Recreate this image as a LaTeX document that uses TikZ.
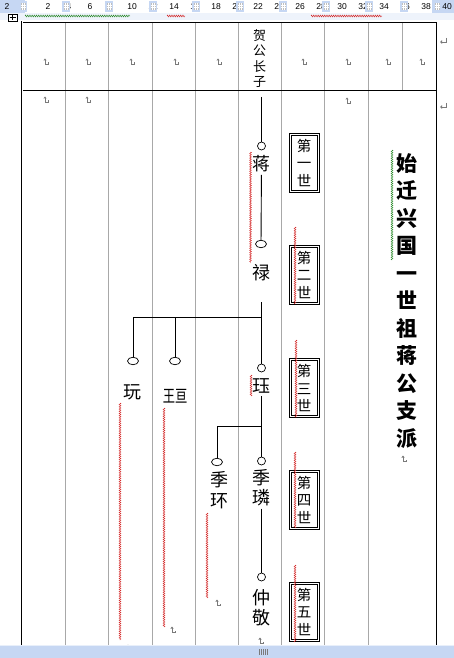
\documentclass[tikz,border=0pt]{standalone}
\usepackage{graphicx}
\usepackage{fontspec}
\setmainfont{Liberation Sans}
\newfontfamily\cjk{Noto Sans CJK SC}
\usetikzlibrary{positioning,shapes.geometric,decorations.pathmorphing}
\definecolor{rulerblue}{HTML}{C6D7F3}
\definecolor{paleblue}{HTML}{EEF3FB}
\definecolor{gridgray}{HTML}{A8A8A8}
\definecolor{markgray}{HTML}{7A7A7A}
\definecolor{spellred}{HTML}{D42A2A}
\definecolor{spellgreen}{HTML}{2E8B2E}

\begin{document}
\begin{tikzpicture}[x=1pt, y=-1pt,
  gridline/.style={draw=gridgray, line width=0.8pt},
  trunk/.style={line width=0.9pt},
  knot/.style={draw, ellipse, inner sep=0pt, minimum width=8pt, minimum height=8pt, line width=0.7pt},
  oval/.style={knot, minimum width=11pt, minimum height=7.5pt},
  person/.style={font=\cjk\fontsize{18}{20.5}\selectfont, align=center, inner sep=2.5pt},
  genbox/.style={draw, line width=0.9pt, align=center, inner sep=0pt,
    minimum width=30pt, minimum height=59pt, font=\cjk\fontsize{14.5}{17.5}\selectfont},
  spell/.style={draw=spellred, line width=0.45pt, decorate, decoration={zigzag, segment length=2.2pt, amplitude=0.9pt}},
  rulernum/.style={font=\fontsize{8.5}{9}\selectfont, inner sep=0pt},
  cellmark/.pic={
    \fill[markgray] (-1.6,-1.5) -- (0,-3.5) -- (1.6,-1.5) -- cycle;
    \draw[markgray, line width=0.6pt] (0,-2) -- (0,2) -- (3.5,2) -- (3.5,0.5);},
  rowmark/.pic={
    \draw[markgray, line width=0.6pt] (3,-3) -- (3,1) -- (-1,1);
    \fill[markgray] (-3,1) -- (-1,-0.8) -- (-1,2.8) -- cycle;}]
  \useasboundingbox (0,0) rectangle (454,658);
  \fill[white] (0,0) rectangle (454,658);
  % ---- ruler ----
  \fill[rulerblue] (0,0) rectangle (454,13);
  \fill[white] (25,0) rectangle (432,13);
  \fill[paleblue] (0,13) rectangle (454,20);
  \node[rulernum] at (7,6.5) {2};
  \foreach \n in {2,4,...,40} \node[rulernum] at (27+10.5*\n,6.5) {\n};
  \foreach \m in {23,66,109,153,196,240,283,326,369,404,437}{
    \fill[rulerblue] (\m-4,1) rectangle (\m+4,12);
    \fill[gray!50] (\m-2.5,3) rectangle (\m+2.5,10);
    \draw[white, line width=0.4pt] (\m-2.5,5.3) -- (\m+2.5,5.3) (\m-2.5,7.7) -- (\m+2.5,7.7)
      (\m-0.8,3) -- (\m-0.8,10) (\m+0.8,3) -- (\m+0.8,10);}
  \draw[fill=white, line width=0.5pt] (8,14) rectangle (17,21);
  \draw[line width=0.5pt] (12.5,15) -- (12.5,20) (9.5,17.5) -- (15.5,17.5);
  % ---- table ----
  \foreach \x in {65,108,152,195,238,281,324,368} \draw[gridline] (\x,23) -- (\x,645);
  \draw[gridline] (402,23) -- (402,91);
  \draw[line width=1pt] (22,91) -- (437,91);
  \draw[line width=0.6pt, double, double distance=1pt] (22,645) |- (437,22) -- (437,645);
  % ---- header row ----
  \node[font=\cjk\fontsize{13}{15.5}\selectfont, align=center, inner sep=0pt] (head) at (259.5,58.5) {贺\\公\\长\\子};
  \foreach \x in {45,87,131,175,218,303,347,387,421} \pic at (\x,62) {cellmark};
  \pic at (443,41) {rowmark};
  \pic at (443,106) {rowmark};
  \foreach \x/\y in {45/100, 87/100, 347/101, 403/459, 217/603, 172/630, 260/641, 128/648} \pic at (\x,\y) {cellmark};
  % ---- lineage ----
  \coordinate (top) at (261.5,97);
  \node[knot] (kj) at (261.5,146) {};
  \node[person] (pj) at (261.5,164) {蒋};
  \node[oval] (kl) at (261,244) {};
  \node[person] (pl) at (261.5,273) {禄};
  \coordinate (lt) at (261.5,302);
  \node[knot] (kq) at (261.5,368) {};
  \node[person] (pq) at (261.5,386) {珏};
  \node[oval] (kw) at (133,361) {};
  \node[person] (pw) at (132,392) {玩};
  \node[oval] (kx) at (175,361) {};
  \node[person, font=\cjk\fontsize{17}{18}\selectfont] (px) at (175,396) {\scalebox{0.72}[1]{王亘}};
  \node[knot] (kn) at (261.5,461) {};
  \node[person] (pn) at (261.5,487.5) {季\\璘};
  \node[oval] (kh) at (217,462) {};
  \node[person] (ph) at (219,490) {季\\环};
  \node[knot] (kz) at (261.5,577) {};
  \node[person] (pz) at (261.5,607.5) {仲\\敬};
  \coordinate (b1) at (261.5,317);
  \coordinate (b2) at (261.5,426);
  \draw[trunk] (top) -- (kj);
  \draw[trunk] (pj) -- (kl);
  \draw[trunk] (lt) -- (kq);
  \draw[trunk] (b1) -| (kw);
  \draw[trunk] (kx |- b1) -- (kx);
  \draw[trunk] (pq) -- (kn);
  \draw[trunk] (b2) -| (kh);
  \draw[trunk] (pn) -- (kz);
  % ---- generations ----
  \foreach \i/\y/\t in {1/162.5/一, 2/274.5/二, 3/388/三, 4/499.5/四, 5/611.5/五}{
    \node[genbox] (g\i) at (304,\y) {第\\\t\\世};
    \draw[line width=0.9pt] ([shift={(2.4,2.4)}]g\i.north west) rectangle ([shift={(-2.4,-2.4)}]g\i.south east);}
  \node[font=\cjk\bfseries\fontsize{21}{27.5}\selectfont, align=center, inner sep=0pt] (title) at (407,301)
    {始\\迁\\兴\\国\\一\\世\\祖\\蒋\\公\\支\\派};
  % ---- proofing marks ----
  \foreach \x/\a/\b in {250.5/152/263, 295/227/304, 251/375/396, 296/340/418, 295/452/528, 295/565/642,
      120/403/640, 164/408/627, 207/513/598}
    \draw[spell] (\x,\a) -- (\x,\b);
  \draw[spell] (167,16) -- (185,16);
  \draw[spell] (311,16) -- (382,16);
  \draw[spell, draw=spellgreen] (392,150) -- (392,260);
  \draw[spell, draw=spellgreen] (25,16) -- (130,16);
  % ---- scroll bar ----
  \fill[rulerblue] (0,645) rectangle (454,658);
  \draw[white!60!rulerblue] (0,645.5) -- (454,645.5);
  \foreach \g in {259,261,263,265,267} \draw[markgray, line width=0.5pt] (\g,649) -- (\g,655);
\end{tikzpicture}
\end{document}
